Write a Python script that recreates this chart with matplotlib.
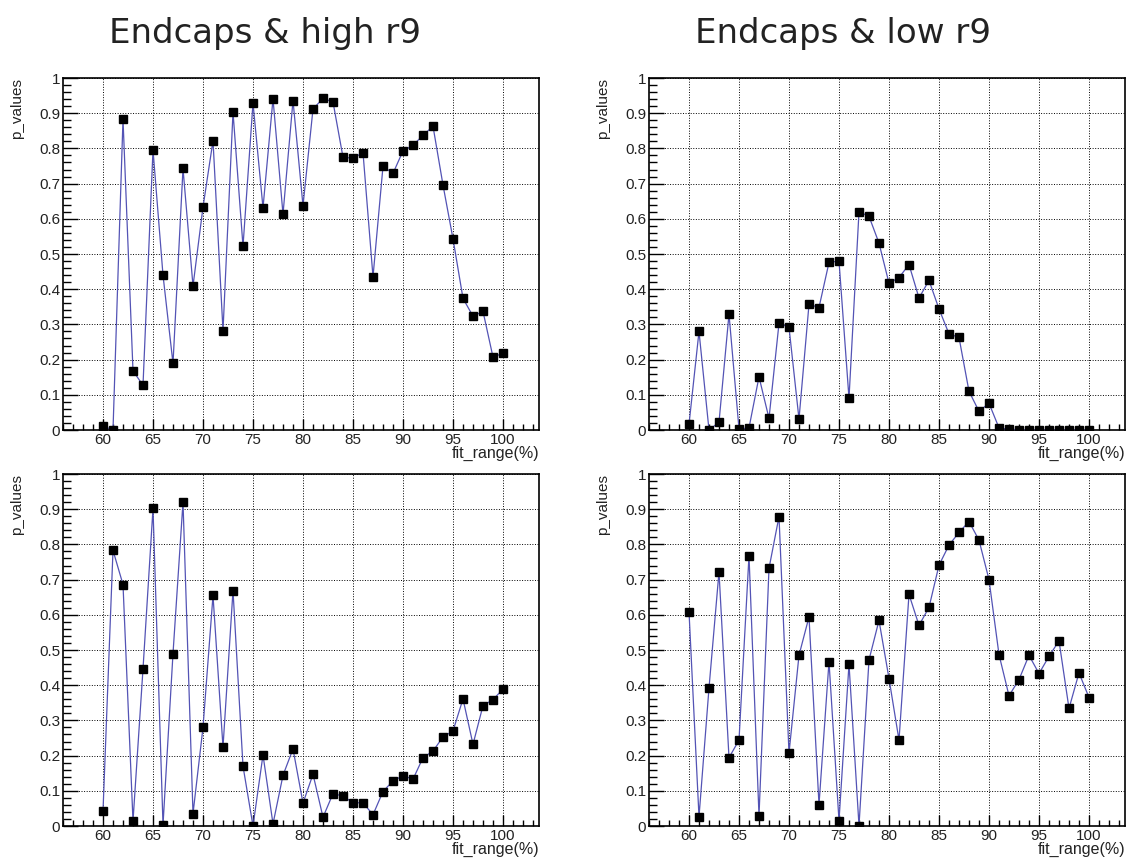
import numpy as np
import matplotlib.pyplot as plt
from matplotlib.ticker import MultipleLocator, FuncFormatter

# fit range in percent, same for every panel
fit_range = np.arange(60, 101)

# p-values
p_high_r9_top = [0.011, 0.0, 0.883, 0.168, 0.127, 0.796, 0.440, 0.189, 0.743, 0.409,
                 0.633, 0.822, 0.282, 0.903, 0.522, 0.929, 0.631, 0.941, 0.613, 0.936,
                 0.637, 0.912, 0.942, 0.932, 0.775, 0.772, 0.788, 0.435, 0.749, 0.729,
                 0.793, 0.809, 0.837, 0.863, 0.696, 0.543, 0.374, 0.323, 0.337, 0.207,
                 0.218]
p_low_r9_top = [0.016, 0.280, 0.0, 0.022, 0.329, 0.003, 0.006, 0.151, 0.033, 0.303,
                0.292, 0.031, 0.357, 0.348, 0.476, 0.480, 0.090, 0.620, 0.607, 0.531,
                0.417, 0.433, 0.470, 0.375, 0.425, 0.344, 0.273, 0.263, 0.110, 0.053,
                0.076, 0.006, 0.002, 0.001, 0.0, 0.0, 0.0, 0.0, 0.0, 0.0,
                0.0]
p_high_r9_bottom = [0.042, 0.783, 0.686, 0.014, 0.446, 0.902, 0.003, 0.490, 0.920, 0.035,
                    0.280, 0.655, 0.224, 0.669, 0.170, 0.0, 0.202, 0.006, 0.144, 0.219,
                    0.065, 0.147, 0.025, 0.092, 0.085, 0.066, 0.066, 0.032, 0.098, 0.128,
                    0.143, 0.133, 0.194, 0.213, 0.253, 0.270, 0.361, 0.232, 0.342, 0.359,
                    0.389]
p_low_r9_bottom = [0.609, 0.026, 0.392, 0.722, 0.194, 0.244, 0.768, 0.029, 0.732, 0.879,
                   0.207, 0.485, 0.594, 0.061, 0.467, 0.015, 0.460, 0.001, 0.472, 0.584,
                   0.419, 0.244, 0.658, 0.570, 0.621, 0.741, 0.798, 0.834, 0.865, 0.812,
                   0.700, 0.487, 0.370, 0.416, 0.485, 0.433, 0.482, 0.526, 0.334, 0.435,
                   0.365]

titles = ['Endcaps & high r9', 'Endcaps & low r9']

W, H = 1127, 859
fig = plt.figure(figsize=(W / 100, H / 100), dpi=100)

# axes boxes in pixels: left, top, right, bottom
boxes = [(63, 78, 539, 430), (649, 78, 1125, 430),
         (63, 474, 539, 826), (649, 474, 1125, 826)]
series = [p_high_r9_top, p_low_r9_top, p_high_r9_bottom, p_low_r9_bottom]

tick_font = 'Liberation Sans'

for (l, t, r, b), vals in zip(boxes, series):
    ax = fig.add_axes([l / W, 1 - b / H, (r - l) / W, (b - t) / H])
    ax.plot(fit_range, vals, color='#5353b5', lw=0.9, zorder=3)
    ax.plot(fit_range, vals, ls='none', marker='s', ms=5.4, color='black', zorder=4)

    ax.set_xlim(56, 103.6)
    ax.set_ylim(0, 1)
    ax.xaxis.set_minor_locator(MultipleLocator(1))
    ax.yaxis.set_major_locator(MultipleLocator(0.1))
    ax.yaxis.set_minor_locator(MultipleLocator(0.02))
    ax.set_xticks([60, 65, 70, 75, 80, 85, 90, 95, 100])
    ax.yaxis.set_major_formatter(FuncFormatter(lambda v, _: '%g' % round(v, 2)))

    ax.tick_params(axis='x', which='major', direction='in', length=8, width=1, pad=2.5)
    ax.tick_params(axis='x', which='minor', direction='in', length=4, width=1)
    ax.tick_params(axis='y', which='major', direction='in', length=11, width=1, pad=2)
    ax.tick_params(axis='y', which='minor', direction='in', length=6, width=1)
    for lab in ax.get_xticklabels() + ax.get_yticklabels():
        lab.set_fontfamily(tick_font)
        lab.set_fontsize(11)
        lab.set_color('#222222')

    ax.grid(True, which='major', color='black', ls=':', lw=0.7)
    for s in ax.spines.values():
        s.set_linewidth(1.2)

    ax.text(-0.096, 1.0, 'p_values', rotation=90, ha='center', va='top',
            transform=ax.transAxes, fontsize=11, family=tick_font, color='#222222')
    ax.text(1.0, -0.066, 'fit_range(%)', ha='right', va='center',
            transform=ax.transAxes, fontsize=11.5, family=tick_font, color='#222222')

fig.text(265 / W, 1 - 33 / H, titles[0], ha='center', va='center',
         fontsize=24.5, family='DejaVu Sans', color='#222222')
fig.text(843 / W, 1 - 33 / H, titles[1], ha='center', va='center',
         fontsize=24.5, family='DejaVu Sans', color='#222222')

fig.savefig('out.png', dpi=100)
